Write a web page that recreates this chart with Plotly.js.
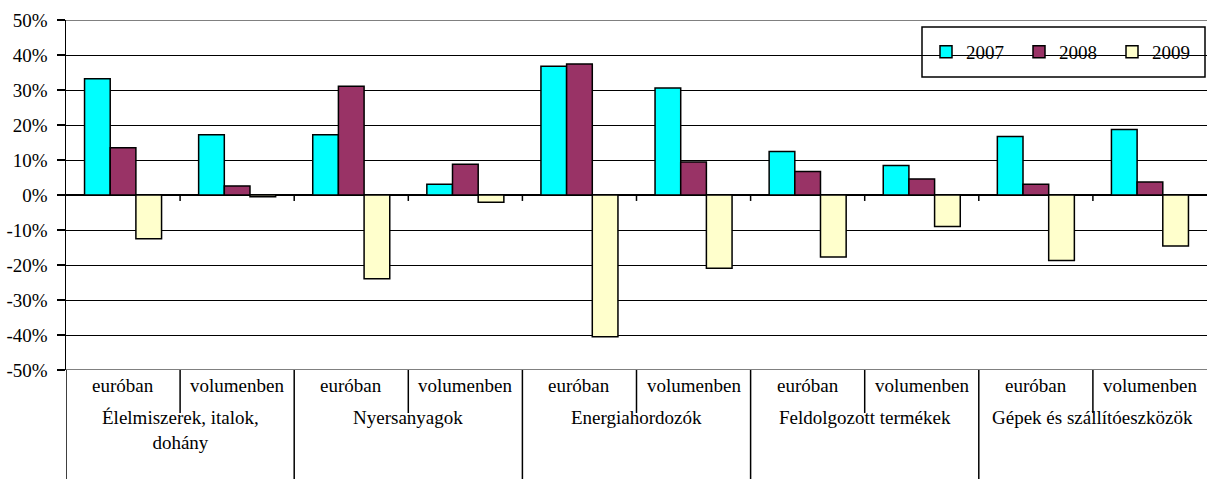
<!DOCTYPE html>
<html>
<head>
<meta charset="utf-8">
<script src="https://cdn.plot.ly/plotly-3.0.1.min.js"></script>
<style>html,body{margin:0;padding:0;background:#fff;}#chart{width:1207px;height:479px;}</style>
</head>
<body>
<div id="chart"></div>
<script>
// ---- data ----
var groupLabels = ["Élelmiszerek, italok,<br>dohány", "Nyersanyagok", "Energiahordozók", "Feldolgozott termékek", "Gépek és szállítóeszközök"];
var subLabels = ["euróban", "volumenben"];
var seriesNames = ["2007", "2008", "2009"];
var v2007 = [33.2, 17.2, 17.2, 3.1, 36.8, 30.6, 12.4, 8.4, 16.7, 18.7];
var v2008 = [13.5, 2.6, 31.1, 8.8, 37.4, 9.4, 6.7, 4.6, 3.1, 3.7];
var v2009 = [-12.5, -0.5, -23.9, -2.1, -40.5, -20.9, -17.7, -9.0, -18.7, -14.6];
var yTickVals = [-50, -40, -30, -20, -10, 0, 10, 20, 30, 40, 50];
var yTickText = ["-50%", "-40%", "-30%", "-20%", "-10%", "0%", "10%", "20%", "30%", "40%", "50%"];
var colors = ["#00FFFF", "#993366", "#FFFFCC"];

// ---- build ----
var nCat = groupLabels.length * subLabels.length;
var xIdx = [];
for (var i = 0; i < nCat; i++) xIdx.push(i);
var FONT = "Liberation Serif, Times New Roman, serif";
var FS = 19;

var values = [v2007, v2008, v2009];
var traces = values.map(function (v, k) {
  return {
    type: "bar", x: xIdx, y: v, name: seriesNames[k],
    marker: {color: colors[k], line: {color: "#000", width: 1.5}},
    hoverinfo: "y"
  };
});

var shapes = [];
var annotations = [];
// legend box
shapes.push({type: "rect", xref: "paper", yref: "paper",
  x0: (922 - 66) / 1141, x1: (1205 - 66) / 1141, y0: (370 - 77) / 350, y1: (370 - 27) / 350,
  fillcolor: "#fff", line: {color: "#000", width: 1.5}, layer: "below"});
// top / bottom gray borders
[50, -50].forEach(function (yv) {
  shapes.push({type: "line", xref: "paper", yref: "y", x0: 0, x1: 1, y0: yv, y1: yv,
    line: {color: "#808080", width: 2}, layer: "above"});
});
// small ticks on the zero line at category boundaries
for (var b = 0; b < nCat - 1; b++) {
  shapes.push({type: "line", xref: "x", yref: "y", x0: b + 0.5, x1: b + 0.5, y0: 0, y1: -1.7,
    line: {color: "#000", width: 1.5}});
}
// label-box dividers below the plot
for (var b2 = -1; b2 < nCat - 1; b2++) {
  var xb = b2 + 0.5;
  var major = (b2 + 1) % subLabels.length === 0;
  shapes.push({type: "line", xref: "x", yref: "paper", x0: xb, x1: xb,
    y0: 0, y1: major ? -109 / 350 : -43 / 350, line: {color: "#000", width: 1.5}});
}
// sub labels
for (var c = 0; c < nCat; c++) {
  annotations.push({xref: "x", yref: "paper", x: c, y: 0, yanchor: "top", yshift: -3,
    text: subLabels[c % subLabels.length], showarrow: false,
    font: {family: FONT, size: FS, color: "#000"}});
}
// group labels
for (var g = 0; g < groupLabels.length; g++) {
  annotations.push({xref: "x", yref: "paper", x: g * subLabels.length + (subLabels.length - 1) / 2,
    y: 0, yanchor: "top", yshift: -35, text: groupLabels[g], showarrow: false,
    font: {family: FONT, size: FS, color: "#000"}});
}

var layout = {
  width: 1207, height: 479,
  margin: {l: 66, r: 0, t: 20, b: 109, pad: 0, autoexpand: false},
  paper_bgcolor: "#fff", plot_bgcolor: "#fff",
  font: {family: FONT, size: FS, color: "#000"},
  barmode: "group", bargap: 0.325, bargroupgap: 0,
  showlegend: true,
  legend: {orientation: "h", x: (926 - 66) / 1141, xanchor: "left", y: (370 - 52) / 350, yanchor: "middle",
    bgcolor: "rgba(0,0,0,0)", borderwidth: 0, font: {family: FONT, size: FS, color: "#000"},
    entrywidth: 48, entrywidthmode: "pixels", traceorder: "normal"},
  xaxis: {range: [-0.5, nCat - 0.5], showticklabels: false, showgrid: false, zeroline: false,
    ticks: "", showline: false, fixedrange: true},
  yaxis: {range: [-50, 50], tickvals: yTickVals, ticktext: yTickText,
    showgrid: true, gridcolor: "#000", gridwidth: 1,
    zeroline: true, zerolinecolor: "#000", zerolinewidth: 1.5,
    showline: true, linecolor: "#000", linewidth: 1.5,
    ticks: "outside", ticklen: 8, tickcolor: "#000", tickwidth: 1.5, ticklabelstandoff: 5,
    tickfont: {family: FONT, size: FS, color: "#000"}, fixedrange: true},
  shapes: shapes, annotations: annotations
};
Plotly.newPlot("chart", traces, layout, {displayModeBar: false, staticPlot: true});
</script>
</body>
</html>
